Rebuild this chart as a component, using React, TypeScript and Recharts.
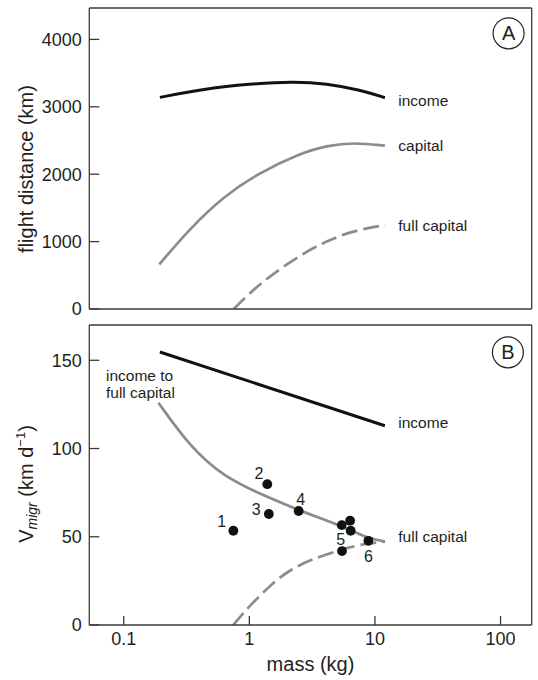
import React from 'react';
import { ComposedChart, Line, Scatter, XAxis, YAxis, Customized } from 'recharts';

// ---------- data ----------
const xTicks = [0.1, 1, 10, 100];
const yTicksA = [0, 1000, 2000, 3000, 4000];
const yTicksB = [0, 50, 100, 150];

// Panel A: flight distance (km)
const massIncomeA = [0.194, 0.455, 1.0, 2.2, 4.12, 7.73, 12.0];
const distIncomeA = [3140, 3273, 3337, 3377, 3347, 3248, 3135];

const massCapitalA = [0.192, 0.337, 0.621, 1.146, 2.53, 4.12, 6.81, 12.0];
const distCapitalA = [663, 1197, 1666, 2003, 2310, 2423, 2472, 2423];

const massFullCapA = [0.75, 1.0, 1.38, 2.53, 4.12, 6.81, 12.0];
const distFullCapA = [0, 230, 455, 801, 1010, 1165, 1245];

// Panel B: V_migr (km/d)
const massIncomeB = [0.194, 12.0];
const vIncomeB = [154.7, 112.9];

const massIncToFullB = [0.189, 0.337, 0.621, 1.376, 2.53, 5.27, 8.58, 12.0];
const vIncToFullB = [125.9, 101, 84, 72.6, 64.7, 56.6, 49.3, 47.3];

const massFullCapB = [0.744, 1.0, 1.6, 2.11, 3.0, 5.64, 8.5, 12.0];
const vFullCapB = [0, 10.8, 25, 31.1, 36.8, 43.3, 46.2, 47.2];

const speciesMass = [0.746, 1.39, 1.43, 2.47, 5.44, 6.34, 6.41, 5.47, 8.87];
const speciesV = [53.4, 79.8, 62.9, 64.6, 56.6, 59.1, 53.4, 41.9, 47.7];
const speciesLabel = ['1', '2', '3', '4', '', '', '', '5', '6'];

const zip = (xs: number[], ys: number[]) => xs.map((m, i) => ({ m, v: ys[i] }));
const incomeA = zip(massIncomeA, distIncomeA);
const capitalA = zip(massCapitalA, distCapitalA);
const fullCapA = zip(massFullCapA, distFullCapA);
const incomeB = zip(massIncomeB, vIncomeB);
const incToFullB = zip(massIncToFullB, vIncToFullB);
const fullCapB = zip(massFullCapB, vFullCapB);
const species = speciesMass.map((m, i) => ({ m, v: speciesV[i], label: speciesLabel[i] }));

// ---------- style ----------
const FONT = '"Liberation Sans", Arial, Helvetica, sans-serif';
const INK = '#231f20';
const FRAME = '#3a3a3a';
const GRAY = '#8c8c8c';
const X_DOMAIN: [number, number] = [0.0532, 177];

const labelOffsets: Record<string, [number, number]> = {
  '1': [-11.6, -9.7],
  '2': [-8.4, -10.7],
  '3': [-12.7, -4.7],
  '4': [2, -11.7],
  '5': [-1.3, -11.7],
  '6': [0, 15.3],
};

const tickStyle = { fontSize: 18, fill: INK, fontFamily: FONT };

const commonAxes = (yDomain: [number, number], yTicks: number[], showXLabels: boolean, xHeight: number) => [
  <XAxis
    key="xb"
    xAxisId={0}
    dataKey="m"
    type="number"
    scale="log"
    domain={X_DOMAIN}
    allowDataOverflow
    ticks={xTicks}
    tickFormatter={(v: number) => String(v)}
    height={xHeight}
    tick={showXLabels ? tickStyle : false}
    tickSize={-9}
    tickMargin={16}
    interval={0}
    axisLine={{ stroke: FRAME, strokeWidth: 1.3 }}
    tickLine={{ stroke: FRAME, strokeWidth: 1.3 }}
  />,
  <XAxis
    key="xt"
    xAxisId="top"
    orientation="top"
    type="number"
    scale="log"
    domain={X_DOMAIN}
    allowDataOverflow
    ticks={xTicks}
    height={1}
    tick={false}
    tickLine={false}
    axisLine={{ stroke: FRAME, strokeWidth: 1.3 }}
  />,
  <YAxis
    key="yl"
    yAxisId={0}
    type="number"
    domain={yDomain}
    allowDataOverflow
    ticks={yTicks}
    interval={0}
    width={89.3}
    tick={tickStyle}
    tickSize={-10}
    tickMargin={17.6}
    axisLine={{ stroke: FRAME, strokeWidth: 1.3 }}
    tickLine={{ stroke: FRAME, strokeWidth: 1.3 }}
  />,
  <YAxis
    key="yr"
    yAxisId="right"
    orientation="right"
    type="number"
    domain={yDomain}
    allowDataOverflow
    width={1}
    tick={false}
    tickLine={false}
    axisLine={{ stroke: FRAME, strokeWidth: 1.3 }}
  />,
];

const Badge = ({ cx, cy, letter }: { cx: number; cy: number; letter: string }) => (
  <g>
    <circle cx={cx} cy={cy} r={15.5} fill="none" stroke={INK} strokeWidth={1.2} />
    <text x={cx} y={cy + 7} textAnchor="middle" fontSize={20} fill={INK} fontFamily={FONT}>
      {letter}
    </text>
  </g>
);

const Ann = ({ x, y, children }: { x: number; y: number; children: React.ReactNode }) => (
  <text x={x} y={y} fontSize={15.5} fill={INK} fontFamily={FONT}>
    {children}
  </text>
);

const OverlayA = () => (
  <g>
    <Badge cx={508.6} cy={33.3} letter="A" />
    <Ann x={398.3} y={105.5}>income</Ann>
    <Ann x={398.3} y={151}>capital</Ann>
    <Ann x={398.3} y={230.5}>full capital</Ann>
    <text transform="translate(33,169) rotate(-90)" textAnchor="middle" fontSize={20} fill={INK} fontFamily={FONT}>
      flight distance (km)
    </text>
  </g>
);

const OverlayB = () => (
  <g>
    <Badge cx={507.9} cy={34.3} letter="B" />
    <Ann x={398.3} y={110}>income</Ann>
    <Ann x={398.3} y={223.5}>full capital</Ann>
    <Ann x={106} y={62.7}>income to</Ann>
    <Ann x={106} y={80.3}>full capital</Ann>
    <text transform="translate(33,166) rotate(-90)" textAnchor="middle" fontSize={20} fill={INK} fontFamily={FONT}>
      <tspan>V</tspan>
      <tspan fontSize={14} fontStyle="italic" dy={4}>migr</tspan>
      <tspan dy={-4}> (km d</tspan>
      <tspan fontSize={13} dy={-8}>−1</tspan>
      <tspan dy={8}>)</tspan>
    </text>
    <text x={310.5} y={353} textAnchor="middle" fontSize={20} fill={INK} fontFamily={FONT}>
      mass (kg)
    </text>
  </g>
);

const SpeciesDot = (props: any) => {
  const { cx, cy, payload } = props;
  const off = labelOffsets[payload.label];
  return (
    <g>
      <circle cx={cx} cy={cy} r={4.9} fill="#111" />
      {off ? (
        <text
          x={cx + off[0]}
          y={cy + off[1] + 5.8}
          textAnchor="middle"
          fontSize={16}
          fill={INK}
          fontFamily={FONT}
        >
          {payload.label}
        </text>
      ) : null}
    </g>
  );
};

export default function App() {
  return (
    <div style={{ position: 'absolute', left: 0, top: 0, width: 538, height: 680, background: '#fff', fontFamily: FONT }}>
      <div style={{ position: 'absolute', left: 0, top: 0 }}>
        <ComposedChart width={538} height={318} margin={{ top: 7, right: 5.3, bottom: 8, left: 0 }}>
          {commonAxes([0, 4466], yTicksA, false, 1)}
          <Line data={incomeA} dataKey="v" type="basis" stroke="#111" strokeWidth={3} dot={false} isAnimationActive={false} />
          <Line data={capitalA} dataKey="v" type="basis" stroke={GRAY} strokeWidth={2.7} dot={false} isAnimationActive={false} />
          <Line data={fullCapA} dataKey="v" type="basis" stroke={GRAY} strokeWidth={2.7} strokeDasharray="16 6" dot={false} isAnimationActive={false} />
          <Customized component={<OverlayA />} />
        </ComposedChart>
      </div>
      <div style={{ position: 'absolute', left: 0, top: 318 }}>
        <ComposedChart width={538} height={362} margin={{ top: 6, right: 5.3, bottom: 0, left: 0 }}>
          {commonAxes([0, 170], yTicksB, true, 55)}
          <Line data={incomeB} dataKey="v" type="linear" stroke="#111" strokeWidth={3} dot={false} isAnimationActive={false} />
          <Line data={incToFullB} dataKey="v" type="basis" stroke={GRAY} strokeWidth={2.7} dot={false} isAnimationActive={false} />
          <Line data={fullCapB} dataKey="v" type="basis" stroke={GRAY} strokeWidth={2.7} strokeDasharray="16 6" dot={false} isAnimationActive={false} />
          <Scatter data={species} dataKey="v" shape={SpeciesDot} isAnimationActive={false} />
          <Customized component={<OverlayB />} />
        </ComposedChart>
      </div>
    </div>
  );
}
